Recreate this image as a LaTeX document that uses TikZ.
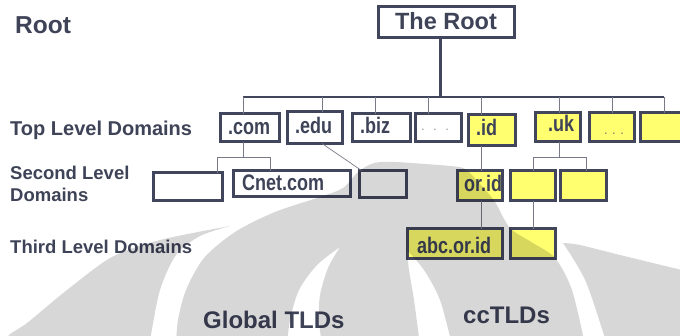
\documentclass[tikz,border=0pt]{standalone}
\usepackage{fontspec}
\setmainfont{Liberation Sans}
\newfontfamily\narrowfont[FakeStretch=0.8]{Liberation Sans}
\definecolor{ink}{RGB}{62,67,88}
\definecolor{edge}{RGB}{66,70,92}
\definecolor{lnk}{RGB}{120,122,136}
\definecolor{ylw}{RGB}{255,255,112}
\definecolor{dotc}{RGB}{150,150,160}
\newcommand\mkbox[6]{%
  \pgfmathsetmacro\mkbw{#4-#2-3}\pgfmathsetmacro\mkbh{#5-#3-3}%
  \pgfmathsetmacro\mkbx{(#2+#4)/2}\pgfmathsetmacro\mkby{(#3+#5)/2}%
  \node[box,fill=#6,minimum width=\mkbw pt,minimum height=\mkbh pt] (#1) at (\mkbx,\mkby) {};}
\tikzset{
  box/.style={draw=edge,line width=3pt,inner sep=0pt,outer sep=0pt},
  lab/.style={anchor=base west,inner sep=0pt,text=ink,font=\bfseries\fontsize{18.5}{21.5}\selectfont},
  toplab/.style={lab,font=\bfseries\fontsize{20}{22}\selectfont},
  biglab/.style={lab,font=\bfseries\fontsize{24}{26}\selectfont},
  btxt/.style={anchor=base west,inner sep=0pt,text=ink,font=\narrowfont\bfseries\fontsize{22.5}{24}\selectfont},
  dots/.style={anchor=base,inner sep=0pt,font=\fontsize{13}{14}\selectfont},
  link/.style={draw=lnk,line width=1pt},
  barln/.style={draw=edge,line width=1.3pt},
  rootln/.style={draw=edge,line width=3pt},
}
\begin{document}
\begin{tikzpicture}[x=1pt,y=-1pt]
\useasboundingbox (0,0) rectangle (680,335);
\begin{scope}
\clip (0,0) rectangle (680,335);
\fill[white] (0,0) rectangle (680,335);
% boxes
\mkbox{root}{377}{5}{516}{39}{white}
\mkbox{com}{219}{112}{281}{143}{white}
\mkbox{edu}{286}{110}{344}{145}{white}
\mkbox{biz}{351}{112}{412}{143}{white}
\mkbox{wdots}{414}{112}{463}{143}{white}
\mkbox{id}{467}{113}{517}{147}{ylw}
\mkbox{uk}{534}{111}{582}{143}{ylw}
\mkbox{ydots}{588}{111}{636}{143}{ylw}
\mkbox{ylast}{639}{111}{692}{143}{ylw}
\mkbox{slone}{152}{171}{224}{202}{white}
\mkbox{cnet}{232}{169}{352}{198}{white}
\mkbox{educh}{358}{169}{408}{199}{white}
\mkbox{orid}{456}{169}{504}{202}{ylw}
\mkbox{ukone}{509}{169}{557}{202}{ylw}
\mkbox{uktwo}{559}{169}{608}{202}{ylw}
\mkbox{abc}{406}{227}{504}{260}{ylw}
\mkbox{small}{509}{227}{557}{260}{ylw}
% connectors
\coordinate (bar) at (440,97);
\coordinate (barL) at (243,97);
\coordinate (barR) at (664,97);
\draw[rootln] (root.south -| bar) -- (bar);
\draw[barln] (barL) -- (barR);
\foreach \n/\x in {com/243,edu/322,biz/375,wdots/428,id/481,uk/559,ydots/612,ylast/664}
  \draw[link] (\x,97) -- (\n.north -| \x,0);
\coordinate (comsplit) at (243,157);
\draw[link] (com.south -| comsplit) -- (comsplit);
\draw[link] (slone.north -| 217,0) -- (217,157) -- (270,157) -- (cnet.north -| 270,0);
\draw[link,line width=0.7pt] ([xshift=7pt]edu.south) -- ([xshift=2pt]educh.north west);
\draw[link] (id.south -| 481,0) -- (orid.north -| 481,0);
\coordinate (uksplit) at (559,157);
\draw[link] (uk.south -| uksplit) -- (uksplit);
\draw[link] (ukone.north -| 533,0) -- (533,157) -- (586,157) -- (uktwo.north -| 586,0);
\draw[link] (orid.south -| 481,0) -- (abc.north -| 481,0);
\draw[link] (ukone.south -| 533,0) -- (small.north -| 533,0);
% labels
\node[biglab,font=\bfseries\fontsize{24.5}{26}\selectfont] (lroot) at (15,33) {Root};
\node[biglab,font=\bfseries\fontsize{23.5}{26}\selectfont,anchor=base] (troot) at (446,29) {The Root};
\node[toplab] (ltop) at (10,135) {Top Level Domains};
\node[lab] (lsec) at (10,179) {Second Level};
\node[lab] (lsecb) at (10,201) {Domains};
\node[lab] (lthird) at (10,253) {Third Level Domains};
\node[biglab] (lglobal) at (203,328) {Global TLDs};
\node[biglab] (lcc) at (463,323) {ccTLDs};
\node[btxt] (tcom) at (228,134) {.com};
\node[btxt] (tedu) at (295,133) {.edu};
\node[btxt] (tbiz) at (360,133.5) {.biz};
\node[dots,text=dotc] (twd) at (435,130) {.\hspace{8.5pt}.\hspace{8.5pt}.};
\node[btxt] (tid) at (476,135) {.id};
\node[btxt] (tuk) at (548,131.5) {.uk};
\node[dots,text=black!55] (tyd) at (614,134) {.\hspace{4.5pt}.\hspace{4.5pt}.};
\node[btxt] (tcnet) at (242,190) {Cnet.com};
\node[btxt] (torid) at (464,191.5) {or.id};
\node[btxt] (tabc) at (417,253) {abc.or.id};
% watermark
\fill[black,fill opacity=0.155,even odd rule]
  plot[smooth] coordinates {(5,345) (9,335) (27,323) (67,290) (112,257) (160,240) (230,226)}
  -- plot[smooth] coordinates {(230,226) (200,236) (176,255) (160,290) (151,335) (150,345)} -- cycle
  plot[smooth] coordinates {(176,345) (178,320) (186,290) (204,258) (235,232) (275,212) (320,197) (343,188) (358,172) (374,163) (395,162) (425,164) (450,166) (465,169) (481,185) (495,202) (510,228) (533,243) (555,258) (572,290) (585,345)} -- cycle
  plot[smooth] coordinates {(287,345) (290,320) (299,290) (317,265) (340,247)}
  -- plot[smooth] coordinates {(340,247) (328,268) (320,295) (319,320) (322,345)} -- cycle
  plot[smooth] coordinates {(420,345) (414,300) (409,270) (407,250)}
  -- plot[smooth] coordinates {(407,250) (424,270) (440,300) (452,345)} -- cycle
  plot[smooth] coordinates {(607,345) (586,282) (563,243)}
  -- plot[smooth] coordinates {(563,243) (580,245) (620,255) (690,272)} -- (690,345) -- cycle;
\end{scope}
\end{tikzpicture}
\end{document}
